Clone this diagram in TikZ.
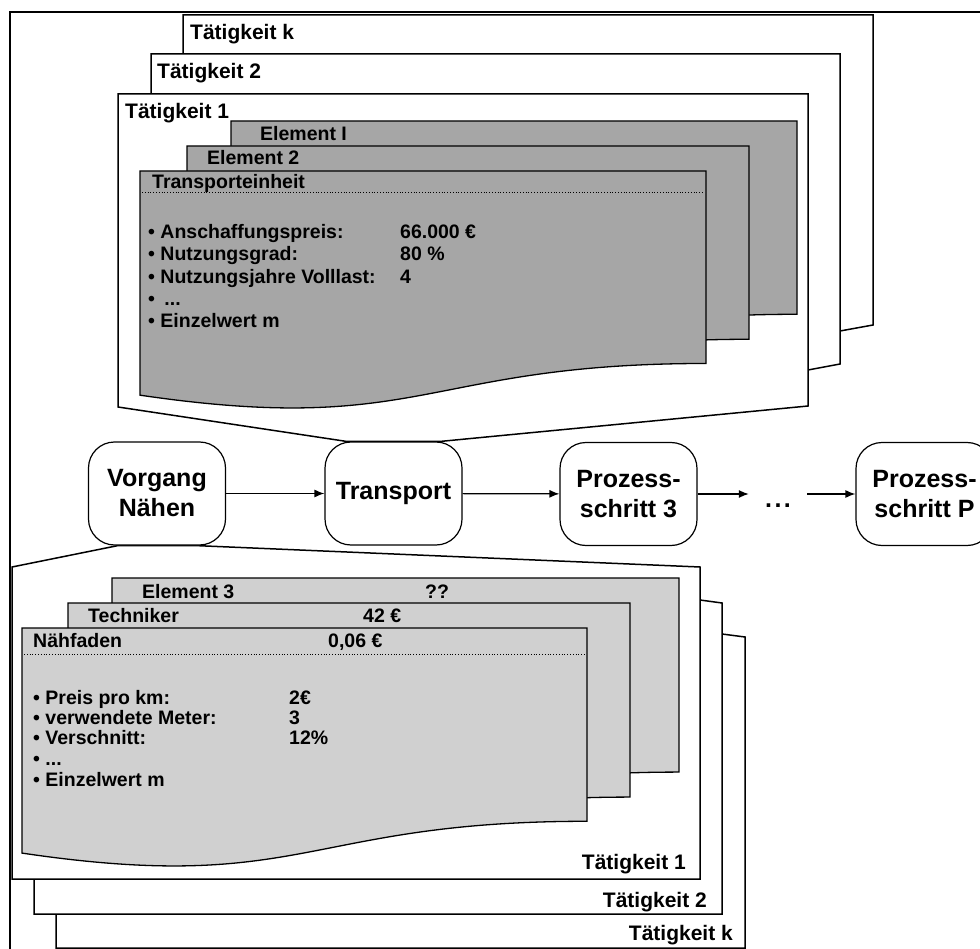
\documentclass[tikz,border=0pt]{standalone}
\usepackage{fontspec}
\setmainfont{Liberation Sans}
\usetikzlibrary{arrows.meta,calc}

\definecolor{cardtop}{RGB}{166,166,166}
\definecolor{cardbot}{RGB}{208,208,208}

\pgfdeclarelayer{back}
\pgfsetlayers{back,main}

\tikzset{
  sheet/.style={draw=black, fill=white, line width=1.5pt, line join=miter},
  darkcard/.style={draw=black, fill=cardtop, line width=1.3pt},
  lightcard/.style={draw=black, fill=cardbot, line width=1.3pt},
  procbox/.style={draw=black, fill=white, line width=1.2pt, rounded corners=26pt,
    minimum width=137pt, minimum height=103pt, align=center, inner sep=0pt,
    font=\fontsize{25}{30}\selectfont\bfseries},
  lbl/.style={anchor=base west, inner sep=0pt, font=\fontsize{19.5}{23}\selectfont\bfseries},
  tlbl/.style={anchor=base west, inner sep=0pt, font=\fontsize{21}{25}\selectfont\bfseries},
  tlblr/.style={tlbl, anchor=base east},
  flow/.style={-{Latex[length=10pt,width=8pt]}, line width=1.2pt},
  sepline/.style={dotted, line width=0.8pt}
}

% document-shaped card: style, left x, top y, width, height
\newcommand\cardshape[5]{%
  \draw[#1] (#2,#3) -- ({#2+#4},#3) -- ({#2+#4},{#3+0.802*#5})
    .. controls ({#2+0.5*#4},{#3+0.802*#5}) and ({#2+0.5*#4},{#3+1.1075*#5})
    .. (#2,{#3+0.934*#5}) -- cycle;}

\begin{document}
\begin{tikzpicture}[x=1pt, y=-1pt]
\useasboundingbox (0,0) rectangle (980,949);
\clip (0,0) rectangle (980,949);

% process chain
\node[procbox] (vn) at (157,493.5) {Vorgang\\Nähen};
\node[procbox] (tr) at (393.5,493.5) {Transport};
\node[procbox] (p3) at (628.5,494) {Prozess-\\schritt 3};
\node[procbox] (pp) at (924.5,494) {Prozess-\\schritt P};
\node[anchor=base, minimum width=58pt, inner sep=0pt,
      font=\fontsize{25}{30}\selectfont\bfseries] (dots) at (778,507) {.\kern2.5pt.\kern2.5pt.};

\draw[flow] (vn) -- (tr);
\draw[flow] (tr) -- (p3);
\draw[flow] (p3.east) -- (p3.east -| dots.west);
\draw[flow] (pp.west -| dots.east) -- (pp.west);

\begin{pgfonlayer}{back}
  % outer frame
  \draw[line width=2pt] (980,12) -- (10,12) -- (10,949);

  % activity sheets above the chain
  \draw[sheet] (183,15) -- (873,15) -- (873,325) -- (840,331) -- (507,362) -- (410,362) -- (183,327) -- cycle;
  \draw[sheet] (151,54) -- (840,54) -- (840,364) -- (808,370) -- (474,402) -- (377,402) -- (151,367) -- cycle;
  \draw[sheet] (118,94) -- (808,94) -- (808,406) -- ($(tr.north east)+(-22,0)$)
    -- ($(tr.north west)+(22,0)$) -- (118,407) -- cycle;

  % activity sheets below the chain
  \draw[sheet] (56,637) -- (164,615) -- (238,615) -- (722,634) -- (745,637) -- (745,948) -- (56,948) -- cycle;
  \draw[sheet] (34,602) -- (142,580) -- (216,580) -- (700,600) -- (722,603) -- (722,914) -- (34,914) -- cycle;
  \draw[sheet] (12,567) -- ($(vn.south west)+(30,0)$) -- ($(vn.south east)+(-30,0)$)
    -- (700,567) -- (700,879) -- (12,879) -- cycle;

  % element cards of the transport step
  \cardshape{darkcard}{231}{121}{566}{241}
  \cardshape{darkcard}{187}{146}{562}{241}
  \cardshape{darkcard}{140}{171}{566}{240}
  \draw[sepline] (142,192) -- (704,192);

  % element cards of the sewing step
  \cardshape{lightcard}{112}{578}{567}{242}
  \cardshape{lightcard}{68}{603}{562}{242}
  \cardshape{lightcard}{22}{628}{565}{241}
  \draw[sepline] (24,654) -- (585,654);
\end{pgfonlayer}

% sheet labels
\node[tlbl] (tkt) at (190,40) {Tätigkeit k};
\node[tlbl] (t2t) at (157,79) {Tätigkeit 2};
\node[tlbl] (t1t) at (125,119) {Tätigkeit 1};
\node[tlblr] (t1b) at (686,869) {Tätigkeit 1};
\node[tlblr] (t2b) at (707,907) {Tätigkeit 2};
\node[tlblr] (tkb) at (733,940) {Tätigkeit k};

% transport unit card
\node[lbl] (el) at (260,141) {Element I};
\node[lbl] (e2) at (207,165) {Element 2};
\node[lbl] (te) at (152,189) {Transporteinheit};
\node[lbl] (ta1) at (148,239) {• Anschaffungspreis:};
\node[lbl] (tv1) at (400,239) {66.000 €};
\node[lbl] (ta2) at (148,261) {• Nutzungsgrad:};
\node[lbl] (tv2) at (400,261) {80 \%};
\node[lbl] (ta3) at (148,284) {• Nutzungsjahre Volllast:};
\node[lbl] (tv3) at (400,284) {4};
\node[lbl] (ta4) at (148,306) {•\hspace{4pt} ...};
\node[lbl] (ta5) at (148,328) {• Einzelwert m};

% sewing thread card
\node[lbl] (e3) at (142,598) {Element 3};
\node[lbl] (e3v) at (425,598) {??};
\node[lbl] (tc) at (88,622) {Techniker};
\node[lbl] (tcv) at (363,622) {42 €};
\node[lbl] (nf) at (33,647) {Nähfaden};
\node[lbl] (nfv) at (328,647) {0,06 €};
\node[lbl] (na1) at (33,704) {• Preis pro km:};
\node[lbl] (nv1) at (289,704) {2€};
\node[lbl] (na2) at (33,724) {• verwendete Meter:};
\node[lbl] (nv2) at (289,724) {3};
\node[lbl] (na3) at (33,744) {• Verschnitt:};
\node[lbl] (nv3) at (289,744) {12\%};
\node[lbl] (na4) at (33,765) {• ...};
\node[lbl] (na5) at (33,786) {• Einzelwert m};
\end{tikzpicture}
\end{document}
